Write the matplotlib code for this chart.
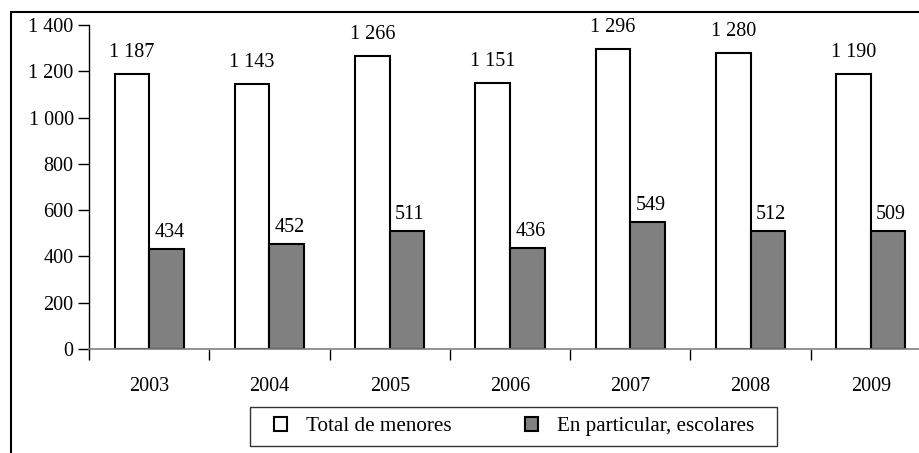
import matplotlib.pyplot as plt
from matplotlib.patches import Patch, Rectangle

years = ['2003', '2004', '2005', '2006', '2007', '2008', '2009']
total_menores = [1187, 1143, 1266, 1151, 1296, 1280, 1190]
escolares = [434, 452, 511, 436, 549, 512, 509]
y_ticks = [0, 200, 400, 600, 800, 1000, 1200, 1400]
y_labels = ['0', '200', '400', '600', '800', '1 000', '1 200', '1 400']


def fmt(v):
    return f'{v:,}'.replace(',', ' ')


plt.rcParams['font.family'] = ['Liberation Serif', 'DejaVu Serif']
plt.rcParams['font.size'] = 14.5

W, H = 919, 453
fig = plt.figure(figsize=(W / 100, H / 100), dpi=100)
ax = fig.add_axes([89 / W, 1 - 349 / H, (931 - 89) / W, (349 - 25) / H])

x = list(range(len(years)))
w = 0.287
ax.bar([i - w / 2 for i in x], total_menores, w, color='white', edgecolor='black', linewidth=1.5)
ax.bar([i + w / 2 for i in x], escolares, w, color='#808080', edgecolor='black', linewidth=1.5)

for i in x:
    ax.annotate(fmt(total_menores[i]), (i - w / 2, total_menores[i]), xytext=(0, 12),
                textcoords='offset pixels', ha='center', va='bottom')
    ax.annotate(fmt(escolares[i]), (i + w / 2, escolares[i]), xytext=(3, 7),
                textcoords='offset pixels', ha='center', va='bottom')

ax.set_xlim(-0.5, len(years) - 0.5)
ax.set_ylim(0, 1400)
ax.set_yticks(y_ticks)
ax.set_yticklabels(y_labels)
ax.set_xticks([i - 0.5 for i in range(len(years) + 1)])
ax.set_xticklabels([])
ax.set_xticks(x, minor=True)
ax.set_xticklabels(years, minor=True)
ax.tick_params(axis='x', which='major', direction='out', length=8, width=1, color='black')
ax.tick_params(axis='x', which='minor', length=0, pad=20)
ax.tick_params(axis='y', direction='out', length=8, width=1, pad=3)

for s in ['top', 'right']:
    ax.spines[s].set_visible(False)
ax.spines['bottom'].set_color('#808080')
ax.spines['bottom'].set_linewidth(1.2)
ax.spines['left'].set_linewidth(1)

# outer frame, cut off at right and bottom
fig.patches.append(Rectangle((11 / W, -0.2), 1.5, 1.2 - 12 / H, fill=False, lw=1.5,
                             edgecolor='black', transform=fig.transFigure, zorder=5))
# legend frame
fig.patches.append(Rectangle((250 / W, 1 - 446 / H), 527 / W, 39 / H, fill=False, lw=1,
                             edgecolor='#333333', transform=fig.transFigure))

handles = [Patch(facecolor='white', edgecolor='black', linewidth=1.5, label='Total de menores'),
           Patch(facecolor='#808080', edgecolor='black', linewidth=1.5, label='En particular, escolares')]
fig.legend(handles=handles, loc='center', bbox_to_anchor=(514 / W, 1 - 426.5 / H),
           ncol=2, frameon=False, fontsize=15.2, handlelength=0.62, handleheight=0.62,
           handletextpad=0.9, columnspacing=3.5, borderpad=0.2)

fig.savefig('out.png', dpi=100)
